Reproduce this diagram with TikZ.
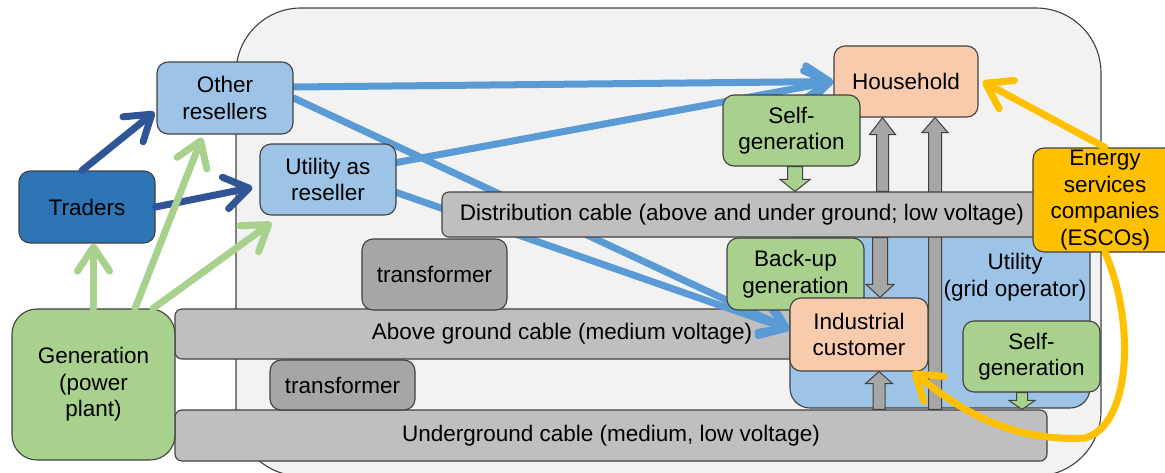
\documentclass[tikz,border=0pt]{standalone}
\usepackage{fontspec}
\setmainfont{Liberation Sans}
\usetikzlibrary{arrows.meta,calc}
\definecolor{bgc}{HTML}{F2F2F2}
\definecolor{bordc}{HTML}{404040}
\definecolor{lblue}{HTML}{9DC3E6}
\definecolor{dblue}{HTML}{2E75B6}
\definecolor{greenc}{HTML}{A9D18E}
\definecolor{peach}{HTML}{F8CBAD}
\definecolor{cablec}{HTML}{BFBFBF}
\definecolor{trc}{HTML}{A6A6A6}
\definecolor{escoc}{HTML}{FFC000}
\definecolor{navyc}{HTML}{2F5597}
\definecolor{mblue}{HTML}{5B9BD5}
\pgfdeclarelayer{back}
\pgfdeclarelayer{mid}
\pgfsetlayers{back,mid,main}
\newcommand\fs{\fontsize{22.5}{26.5}\selectfont}
% block arrow: #1 tail, #2 tip, #3 half shaft, #4 half head, #5 head length, #6 fill
\newcommand\blkarrow[6]{%
  \path[draw=bordc,line width=1pt,fill=#6]
    let \p1=(#1), \p2=(#2), \n1={(\y2>\y1)?1:-1} in
    ({\x2-#3},\y1) -- ({\x2-#3},{\y2-\n1*#5}) -- ({\x2-#4},{\y2-\n1*#5}) -- (\x2,\y2)
    -- ({\x2+#4},{\y2-\n1*#5}) -- ({\x2+#3},{\y2-\n1*#5}) -- ({\x2+#3},\y1) -- cycle;}
\begin{document}
\begin{tikzpicture}[x=1pt,y=-1pt,
  box/.style={draw=bordc,line width=1.1pt,rounded corners=11pt,align=center,inner sep=0pt,font=\fs},
  cable/.style={box,fill=cablec,rounded corners=7pt},
  con/.style={line width=7pt,line cap=round,-{Straight Barb[length=24pt,width=32pt,round]}}]
\useasboundingbox (0,0) rectangle (1165,472);
\begin{pgfonlayer}{back}
% background
\draw[draw=bordc,fill=bgc,line width=1.1pt,rounded corners=65pt] (236,8) rectangle (1101,476);
% cables and transformers
\node[cable,minimum width=774pt,minimum height=50pt] (agc) at (562,334) {Above ground cable (medium voltage)};
\node[cable,minimum width=872pt,minimum height=51pt] (ugc) at (611,435.5) {Underground cable (medium, low voltage)};
\node[box,fill=trc,minimum width=145pt,minimum height=71pt] (tr1) at (434.5,274.5) {transformer};
\node[box,fill=trc,minimum width=145pt,minimum height=50pt] (tr2) at (342.5,385) {transformer};
% utility grid operator region
\node[box,fill=lblue,rounded corners=20pt,minimum width=300pt,minimum height=178pt] (grid) at (940,319) {};
\node[font=\fs,align=center,inner sep=0pt] (gridlbl) at (1015,277) {Utility\\(grid operator)};
\end{pgfonlayer}
% distribution cable and customer nodes
\node[cable,minimum width=600pt,minimum height=45pt] (dc) at (742,214.5) {Distribution cable (above and under ground; low voltage)};
\node[box,fill=peach,minimum width=144pt,minimum height=71pt] (house) at (906,81.5) {Household};
\node[box,fill=lblue,minimum width=136pt,minimum height=72pt] (other) at (225,98) {Other\\resellers};
\node[box,fill=lblue,minimum width=136pt,minimum height=71pt] (util) at (328,179.5) {Utility as\\reseller};
\node[box,fill=greenc,minimum width=137pt,minimum height=71pt] (sg1) at (791.5,130.5) {Self-\\generation};
\node[box,fill=greenc,minimum width=137pt,minimum height=72pt] (bkp) at (795.5,274) {Back-up\\generation};
\node[box,fill=peach,minimum width=138pt,minimum height=73pt] (ind) at (859,334.5) {Industrial\\customer};
\node[box,fill=greenc,minimum width=137pt,minimum height=71pt] (sg2) at (1031.5,356.5) {Self-\\generation};
\begin{pgfonlayer}{back}
% long grey arrow (under distribution cable)
\blkarrow{935,0 |- ugc.north}{935,0 |- house.south}{6.5pt}{13pt}{15pt}{trc}
\end{pgfonlayer}
\begin{pgfonlayer}{mid}
% blue connectors
\draw[con,mblue] ([yshift=11pt]other.east) -- (house.west);
\draw[con,mblue] ([yshift=17pt]util.east) -- (house.west);
\draw[con,mblue] (other.east) -- ([yshift=5pt]ind.west);
\draw[con,mblue] ([yshift=-13pt]util.east) -- ([yshift=5pt]ind.west);
\end{pgfonlayer}
% block arrows
\blkarrow{795,0 |- sg1.south}{795,0 |- dc.north}{7.5pt}{15pt}{12pt}{greenc}
\blkarrow{882.5,0 |- dc.north}{882.5,0 |- house.south}{6pt}{13pt}{17pt}{trc}
\blkarrow{880,0 |- dc.south}{880,0 |- ind.north}{7.5pt}{14pt}{13pt}{trc}
\blkarrow{879,0 |- ugc.north}{879,0 |- ind.south}{6pt}{13.5pt}{12pt}{trc}
\blkarrow{1022,0 |- sg2.south}{1022,0 |- ugc.north}{5.5pt}{13pt}{9pt}{greenc}
% left nodes
\node[box,fill=dblue,minimum width=136pt,minimum height=72pt] (traders) at (87,207) {Traders};
\node[box,fill=greenc,rounded corners=25pt,minimum width=163pt,minimum height=151pt] (gen) at (93.5,384.5) {Generation\\(power\\plant)};
% dark blue connectors
\draw[con,navyc] ([xshift=-5pt]traders.north) -- ([xshift=-2pt,yshift=-14pt]other.west);
\draw[con,navyc] (traders.east) -- ([xshift=-7pt,yshift=-8pt]util.west);
% green connectors
\draw[con,greenc] (gen.north) -- (gen.north |- traders.south);
\draw[con,greenc] ([xshift=41.5pt]gen.north) -- ([xshift=-23pt,yshift=-3pt]other.south);
\draw[con,greenc] ([xshift=59.5pt]gen.north) -- ([xshift=12pt,yshift=-7pt]util.south west);
% ESCOs
\node[box,fill=escoc,minimum width=144pt,minimum height=104pt] (esco) at (1105,200) {Energy\\services\\companies\\(ESCOs)};
\draw[con,escoc] (esco.north) -- ([xshift=4pt]house.east);
\draw[con,escoc] (esco.south) .. controls (1135,320) and (1132,425) .. (1085,438)
  .. controls (1010,442) and (960,410) .. ([xshift=-16pt]ind.south east);
\end{tikzpicture}
\end{document}
